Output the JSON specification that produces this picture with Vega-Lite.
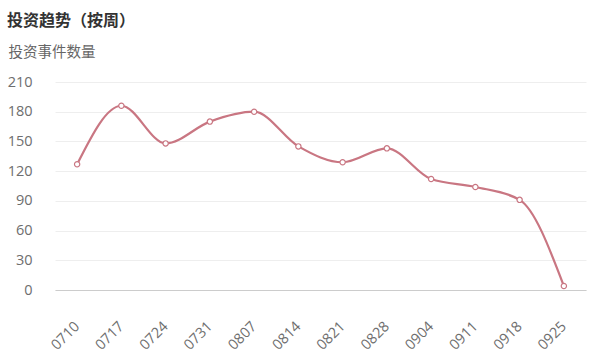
{
  "$schema": "https://vega.github.io/schema/vega-lite/v6.json",
  "autosize": {"type": "none"},
  "width": 531,
  "height": 208,
  "padding": {"left": 55, "top": 82, "right": 5, "bottom": 74},
  "background": "white",
  "title": {
    "text": "投资趋势（按周）",
    "anchor": "start",
    "frame": "group",
    "font": "Noto Sans CJK SC",
    "fontSize": 16,
    "fontWeight": "bold",
    "color": "#333333",
    "dx": -48,
    "offset": 15
  },
  "data": {
    "values": [
      {"week": "0710", "count": 127},
      {"week": "0717", "count": 186},
      {"week": "0724", "count": 148},
      {"week": "0731", "count": 170},
      {"week": "0807", "count": 180},
      {"week": "0814", "count": 145},
      {"week": "0821", "count": 129},
      {"week": "0828", "count": 143},
      {"week": "0904", "count": 112},
      {"week": "0911", "count": 104},
      {"week": "0918", "count": 91},
      {"week": "0925", "count": 4}
    ]
  },
  "encoding": {
    "x": {
      "field": "week",
      "type": "ordinal",
      "scale": {"type": "point", "padding": 0.5},
      "axis": {
        "title": null,
        "labelAngle": -45,
        "labelAlign": "right",
        "labelBaseline": "middle",
        "labelPadding": 34,
        "labelFont": "Open Sans",
        "labelFontSize": 14.5,
        "labelColor": "#6e6e6e",
        "ticks": false,
        "domainColor": "#cccccc",
        "grid": false
      }
    },
    "y": {
      "field": "count",
      "type": "quantitative",
      "scale": {"domain": [0, 210], "nice": false},
      "axis": {
        "values": [0, 30, 60, 90, 120, 150, 180, 210],
        "title": "投资事件数量",
        "titleAngle": 0,
        "titleAlign": "left",
        "titleBaseline": "middle",
        "titleX": -47,
        "titleY": -30,
        "titleFont": "Noto Sans CJK SC",
        "titleFontSize": 14.5,
        "titleFontWeight": "normal",
        "titleColor": "#666666",
        "labelFont": "Open Sans",
        "labelFontSize": 14.5,
        "labelColor": "#6e6e6e",
        "labelPadding": 23,
        "ticks": false,
        "domain": false,
        "gridColor": "#eeeeee"
      }
    }
  },
  "layer": [
    {
      "mark": {"type": "line", "interpolate": "monotone", "color": "#c97682", "strokeWidth": 2.2}
    },
    {
      "mark": {"type": "point", "filled": true, "fill": "white", "stroke": "#c97682", "strokeWidth": 1.2, "size": 28, "opacity": 1}
    }
  ],
  "config": {"view": {"stroke": null}}
}
